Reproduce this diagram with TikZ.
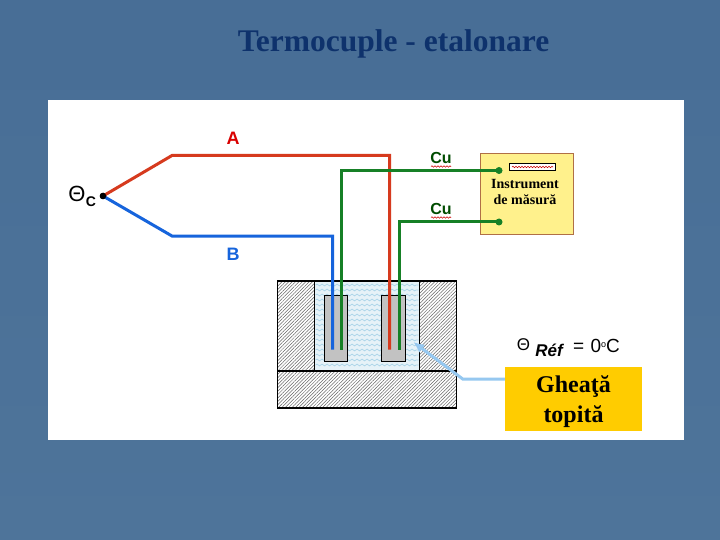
\documentclass[tikz,border=0pt]{standalone}
\usepackage{fontspec}
\setmainfont{Liberation Serif}
\setsansfont{Liberation Sans}
\usetikzlibrary{patterns.meta,decorations.pathmorphing,arrows.meta,calc}
\definecolor{slide}{RGB}{72,110,150}
\definecolor{slidelight}{RGB}{78,116,154}
\definecolor{titleblue}{RGB}{14,50,108}
\definecolor{wirered}{RGB}{214,58,30}
\definecolor{wireblue}{RGB}{22,100,220}
\definecolor{wiregreen}{RGB}{22,128,38}
\definecolor{instr}{RGB}{255,241,140}
\definecolor{instredge}{RGB}{176,112,70}
\definecolor{gold}{RGB}{255,204,0}
\definecolor{leader}{RGB}{150,200,240}
\definecolor{waterline}{RGB}{170,212,232}
\tikzset{
  x=1pt,y=-1pt,
  wire/.style={line width=#1,line join=miter},
  wire/.default=3pt,
  hatchfill/.style={draw=black,line width=1.1pt,pattern={Lines[angle=45,distance=2.4pt,line width=.5pt]},pattern color=black!60},
  sheath/.style={draw=black,line width=1.1pt,fill=black!24},
  joint/.style={circle,fill=#1,inner sep=0pt,minimum size=7pt},
  lbl/.style={inner sep=0pt,font=\sffamily\bfseries\fontsize{18}{18}\selectfont},
  cul/.style={inner sep=0pt,font=\sffamily\bfseries\fontsize{16}{16}\selectfont},
  serif/.style={inner sep=0pt,align=center,font=\rmfamily\bfseries},
  squig/.style={draw=red!80!black,line width=.6pt,decorate,decoration={snake,amplitude=.7pt,segment length=3pt}},
  wave/.style={draw=waterline,line width=.7pt,decorate,decoration={snake,amplitude=.9pt,segment length=5pt}}
}
\begin{document}
\begin{tikzpicture}
\useasboundingbox (0,0) rectangle (720,540);
\shade[bottom color=slidelight,top color=slide] (0,0) rectangle (720,540);
\fill[slide] (0,0) rectangle (720,90);
\node[inner sep=0pt,text=titleblue,font=\rmfamily\bfseries\fontsize{31.5}{32}\selectfont] (title) at (393.5,44) {Termocuple - etalonare};
% panel
\node[fill=white,inner sep=0pt,minimum width=636pt,minimum height=340pt] (panel) at (366,270) {};
% water
\fill[fill=waterline!30] (314.5,281) rectangle (419.5,371);
\foreach \y in {285,290,...,369}
  \path[wave] (315.5,\y) -- (418.5,\y);
% block
\path[hatchfill] (277.5,281) -- (314.5,281) -- (314.5,371) -- (277.5,371) -- cycle;
\path[hatchfill] (419.5,281) -- (456.5,281) -- (456.5,371) -- (419.5,371) -- cycle;
\path[hatchfill] (277.5,371) rectangle (456.5,408);
\draw[black,line width=1.1pt] (314.5,281) -- (419.5,281);
% sheaths
\node[sheath,inner sep=0pt,minimum width=23.5pt,minimum height=66pt] (sheathL) at (336,328.3) {};
\node[sheath,inner sep=0pt,minimum width=24pt,minimum height=66pt] (sheathR) at (393.7,328.3) {};
% named points
\node[joint=black,minimum size=6.5pt] (hot) at (103,196) {};
\coordinate (r1) at (172,155.5);
\coordinate (r2) at (389.5,155.5);
\coordinate (r3) at (389.5,349.5);
\coordinate (b1) at (172,236);
\coordinate (b2) at (332.5,236);
\coordinate (b3) at (332.5,349.5);
\coordinate (g1a) at (341.5,349.5);
\coordinate (g1b) at (341.5,170.5);
\coordinate (g2a) at (399.5,349.5);
\coordinate (g2b) at (399.5,222);
% instrument
\node[draw=instredge,line width=1pt,fill=instr,inner sep=0pt,minimum width=93pt,minimum height=81pt] (instrument) at (527.2,193.8) {};
\node[draw=black,line width=.8pt,fill=white,inner sep=0pt,minimum width=46pt,minimum height=7.5pt] (display) at (532.5,167) {};
\path[squig] (512,167) -- (553,167);
\node[serif,font=\rmfamily\bfseries\fontsize{14}{15.5}\selectfont] (instrtext) at (525,192) {Instrument\\de măsură};
\node[joint=wiregreen] (t1) at (499,170.5) {};
\node[joint=wiregreen] (t2) at (499,222) {};
% wires
\draw[wire,draw=wirered] (hot.center) -- (r1) -- (r2) -- (r3);
\draw[wire,draw=wireblue] (hot.center) -- (b1) -- (b2) -- (b3);
\draw[wire,draw=wiregreen] (g1a) -- (g1b) -- (t1.center);
\draw[wire,draw=wiregreen] (g2a) -- (g2b) -- (t2.center);
\node[joint=black,minimum size=6.5pt] at (hot) {};
% labels
\node[lbl,text=red!85!black] (labA) at (233,138) {A};
\node[lbl,text=wireblue] (labB) at (233,254) {B};
\node[cul,text=black!70!green] (cu1) at (441,158) {Cu};
\node[cul,text=black!70!green] (cu2) at (441,209) {Cu};
\path[squig] (431,166.5) -- (451,166.5);
\path[squig] (431,217.5) -- (451,217.5);
\node[inner sep=0pt,font=\sffamily\fontsize{22}{22}\selectfont] (thC) at (77,194) {Θ};
\node[inner sep=0pt,font=\sffamily\bfseries\fontsize{14}{14}\selectfont] (subC) at (91,202) {C};
\node[inner sep=0pt,font=\sffamily\fontsize{17}{17}\selectfont] (thR) at (523.5,344.5) {Θ};
\node[inner sep=0pt,font=\sffamily\bfseries\itshape\fontsize{17}{17}\selectfont] (subR) at (549,350) {Réf};
\node[inner sep=0pt,font=\sffamily\fontsize{19}{19}\selectfont,anchor=west] (zero) at (573,346) {=\,\,0\raisebox{5pt}{\fontsize{9}{9}\selectfont o}C};
% ice label
\node[fill=gold,inner sep=0pt,minimum width=137pt,minimum height=64pt] (ice) at (573.5,399) {};
\node[inner sep=0pt,align=center,font=\rmfamily\bfseries\fontsize{24}{30}\selectfont] (icetext) at (573.5,402) {Gheaţă\\topită};
\coordinate (bend) at (462.7,379);
\coordinate (tip) at (413.3,342);
\draw[draw=leader,line width=3pt,-{Latex[length=11pt,width=10pt]}] (ice.west |- bend) -- (bend) -- (tip);
\end{tikzpicture}
\end{document}
